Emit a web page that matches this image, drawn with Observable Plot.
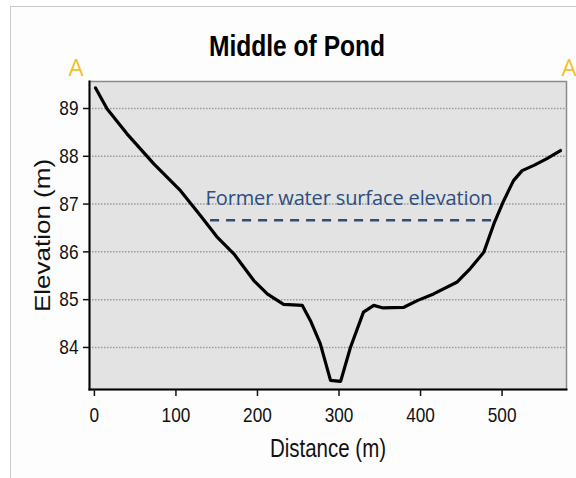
<!DOCTYPE html>
<html>
<head>
<meta charset="utf-8">
<script src="https://cdn.jsdelivr.net/npm/d3@7"></script>
<script src="https://cdn.jsdelivr.net/npm/@observablehq/plot@0.6"></script>
<style>
  html, body { margin: 0; padding: 0; background: #fff; overflow: hidden; }
  #wrap { position: relative; width: 576px; height: 478px; }
  #border { position: absolute; left: 10px; top: 6px; width: 640px; height: 540px;
            border: 1.5px solid #c9c9c9; background: #fdfdfd; }
  #chart { position: absolute; left: 0; top: 0; }
</style>
</head>
<body>
<div id="wrap"><div id="border"></div><div id="chart"></div></div>
<script>
const titleText = "Middle of Pond";
const xLabel = "Distance (m)";
const yLabel = "Elevation (m)";
const startLabel = "A";
const endLabel = "A'";
const formerLabel = "Former water surface elevation";

const xTicks = [0, 100, 200, 300, 400, 500];
const yTicks = [84, 85, 86, 87, 88, 89];

// profile
const distance = [1.4, 15.7, 40, 72.9, 105.6, 130, 150, 171, 195.5, 212, 232, 255, 265, 277, 289.6, 302, 314, 330, 342.6, 353, 379.5, 396, 416, 445, 461, 477.5, 490, 502, 514, 524.6, 539, 555, 571.6];
const elevation = [89.43, 88.99, 88.47, 87.84, 87.28, 86.76, 86.32, 85.96, 85.40, 85.12, 84.90, 84.88, 84.56, 84.08, 83.31, 83.29, 84.0, 84.74, 84.88, 84.83, 84.84, 84.98, 85.12, 85.37, 85.65, 85.99, 86.59, 87.07, 87.49, 87.70, 87.81, 87.95, 88.12];

// former water surface
const formerStart = [142.5];
const formerEnd = [490];
const formerElevation = [86.66];

const profile = distance.map((d, i) => ({d, e: elevation[i]}));
const former = formerStart.map((x1, i) => ({x1, x2: formerEnd[i], y: formerElevation[i], label: formerLabel}));

const sans = "'Liberation Sans',Arial,sans-serif";

const svg = Plot.plot({
  width: 576,
  height: 478,
  marginLeft: 89,
  marginRight: 10,
  marginTop: 81,
  marginBottom: 89,
  style: {background: "transparent", fontFamily: sans, fontSize: "21px", color: "#111", overflow: "visible"},
  x: {domain: [-6, 579]},
  y: {domain: [83.12, 89.565]},
  marks: [
    Plot.frame({fill: "#e3e3e3", stroke: "#8a8a8a", strokeWidth: 1.5}),
    Plot.gridY(yTicks, {stroke: "#9a9a9a", strokeOpacity: 1, strokeWidth: 1.5, strokeDasharray: "1.5,1.5"}),
    Plot.frame({anchor: "left", stroke: "#000", strokeWidth: 2}),
    Plot.frame({anchor: "bottom", stroke: "#000", strokeWidth: 2}),
    Plot.axisY(yTicks, {tickSize: 6, tickPadding: 5, label: null, fontSize: 21, strokeWidth: 1.5}),
    Plot.axisX(xTicks, {tickSize: 7, tickPadding: 11, label: null, fontSize: 21, strokeWidth: 1.5}),
    Plot.line(profile, {x: "d", y: "e", stroke: "#000", strokeWidth: 3.2, strokeLinejoin: "round"}),
    Plot.ruleY(former, {y: "y", x1: "x1", x2: "x2", stroke: "#2f4b7a", strokeWidth: 2.5, strokeDasharray: "9,7"}),
    Plot.text(former, {x: "x1", y: "y", text: "label", dx: -5, dy: -15, textAnchor: "start", lineAnchor: "bottom",
      fill: "#2d4e7e", fontSize: 20, fontFamily: "'Open Sans',sans-serif"}),
    Plot.text([titleText], {text: d => d, frameAnchor: "top", dx: -31, dy: -26, lineAnchor: "bottom",
      fontSize: 30, fontWeight: "bold", fill: "#000"}),
    Plot.text([yLabel], {text: d => d, frameAnchor: "left", dx: -46, rotate: -90, textAnchor: "middle", lineAnchor: "middle",
      fontSize: 26, fill: "#111"}),
    Plot.text([xLabel], {text: d => d, frameAnchor: "bottom", dy: 67, lineAnchor: "bottom", fontSize: 25, fill: "#111"}),
    Plot.text([startLabel], {text: d => d, frameAnchor: "top-left", dx: -13.5, dy: -6, textAnchor: "middle", lineAnchor: "bottom",
      fontSize: 24, fontFamily: "'Open Sans',sans-serif", fill: "#f0c22a"}),
    Plot.text([endLabel], {text: d => d, frameAnchor: "top-right", dx: -5, dy: -6, textAnchor: "start", lineAnchor: "bottom",
      fontSize: 24, fontFamily: "'Open Sans',sans-serif", fill: "#f0c22a"})
  ]
});

// the reference lettering is horizontally condensed (Arial Narrow look)
const squeeze = 0.82;
d3.select(svg).selectAll("text").each(function() {
  const t = this.textContent;
  if (t === formerLabel || t === startLabel || t === endLabel) return;
  const tr = this.getAttribute("transform");
  if (tr && /translate\([^)]*\)/.test(tr)) {
    this.setAttribute("transform", tr.replace(/(translate\([^)]*\))/, `$1 scale(${squeeze},1)`));
  } else {
    const x = +this.getAttribute("x") || 0, y = +this.getAttribute("y") || 0;
    this.setAttribute("x", 0); this.setAttribute("y", 0);
    this.setAttribute("transform", `translate(${x},${y}) scale(${squeeze},1)` + (tr ? " " + tr : ""));
  }
});

d3.select(svg).selectAll("text")
  .filter(function() { return this.textContent === formerLabel; })
  .attr("textLength", 287).attr("lengthAdjust", "spacing");

document.getElementById("chart").appendChild(svg);
</script>
</body>
</html>
